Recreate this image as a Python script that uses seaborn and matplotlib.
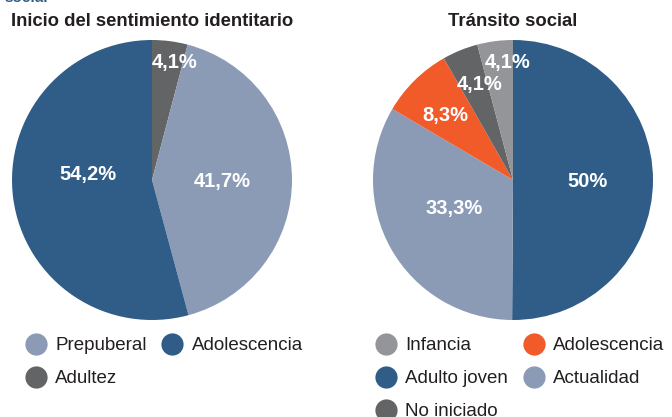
import matplotlib.pyplot as plt
import seaborn as sns
from matplotlib.lines import Line2D

# Data
inicio_cats = ["Adultez", "Prepuberal", "Adolescencia"]
inicio_vals = [4.1, 41.7, 54.2]
inicio_labels = ["4,1%", "41,7%", "54,2%"]

transito_cats = ["Adulto joven", "Actualidad", "Adolescencia", "No iniciado", "Infancia"]
transito_vals = [50.0, 33.3, 8.3, 4.1, 4.1]
transito_labels = ["50%", "33,3%", "8,3%", "4,1%", "4,1%"]

inicio_legend = ["Prepuberal", "Adultez", "Adolescencia"]
transito_legend = ["Infancia", "Adulto joven", "No iniciado", "Adolescencia", "Actualidad"]

inicio_colors = {"Adultez": "#636466", "Prepuberal": "#8b9bb6", "Adolescencia": "#2f5d87"}
transito_colors = {"Adulto joven": "#2f5d87", "Actualidad": "#8b9bb6", "Adolescencia": "#f15a29",
                   "No iniciado": "#636466", "Infancia": "#939598"}

# where the percentage labels sit, in pie-radius units
inicio_label_pos = [(0.16, 0.84), (0.5, -0.01), (-0.46, 0.04)]
transito_label_pos = [(0.53, -0.01), (-0.42, -0.2), (-0.48, 0.46), (-0.24, 0.68), (-0.04, 0.84)]

sns.set_theme(style="white")
plt.rcParams["font.family"] = ["Liberation Sans", "DejaVu Sans"]

W, H = 672, 417
fig = plt.figure(figsize=(W / 100, H / 100), dpi=100)


def draw_pie(cx, cy, r, vals, cats, labels, colors, label_pos, title):
    ax = fig.add_axes([(cx - r) / W, 1 - (cy + r) / H, 2 * r / W, 2 * r / H])
    it = iter(labels)
    wedges, texts, autotexts = ax.pie(
        vals, colors=[colors[c] for c in cats], startangle=90, counterclock=False,
        autopct=lambda p: next(it), pctdistance=0.6,
        wedgeprops=dict(linewidth=0),
        textprops=dict(color="white", fontsize=14.5, fontweight="bold"))
    for t, pos in zip(autotexts, label_pos):
        t.set_position(pos)
    ax.set_xlim(-1, 1)
    ax.set_ylim(-1, 1)
    ax.set_aspect("equal")
    fig.text(cx / W, 1 - 21 / H, title, ha="center", va="center",
             fontsize=13.3, fontweight="bold", color="#231f20")
    return ax


draw_pie(152, 180, 140, inicio_vals, inicio_cats, inicio_labels, inicio_colors,
         inicio_label_pos, "Inicio del sentimiento identitario")
draw_pie(513, 180, 140, transito_vals, transito_cats, transito_labels, transito_colors,
         transito_label_pos, "Tránsito social")


def legend(names, colors, x, y):
    handles = [Line2D([], [], marker="o", linestyle="", markersize=16,
                      markerfacecolor=colors[n], markeredgewidth=0) for n in names]
    fig.legend(handles, names, loc="upper left", bbox_to_anchor=(x / W, 1 - y / H),
               ncol=2, frameon=False, fontsize=13.5, handlelength=0.85,
               handletextpad=0.6, columnspacing=0.95, labelspacing=0.85,
               borderpad=0, borderaxespad=0, labelcolor="#231f20")


legend(inicio_legend, inicio_colors, 28, 337)
legend(transito_legend, transito_colors, 378, 337)

# clipped header text from the page above
fig.text(4 / W, 1 - 5 / H, "social", ha="left", va="bottom",
         fontsize=11, fontweight="bold", color="#2f5d87")

fig.savefig("out.png", dpi=100)
